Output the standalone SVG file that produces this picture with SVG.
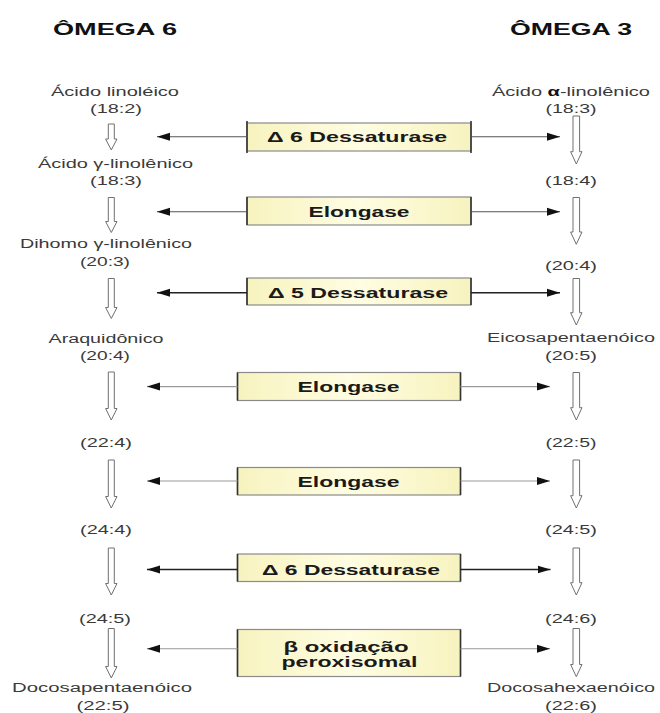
<svg xmlns="http://www.w3.org/2000/svg" width="660" height="713" viewBox="0 0 660 713">
<defs>
<linearGradient id="boxfill" x1="0" y1="0" x2="1" y2="0">
<stop offset="0" stop-color="#f7f3bf"/>
<stop offset="0.5" stop-color="#fffde2"/>
<stop offset="1" stop-color="#f7f3bf"/>
</linearGradient>
<marker id="ah" markerUnits="userSpaceOnUse" markerWidth="14" markerHeight="10" refX="13" refY="4.5" orient="auto">
<path d="M0,0.5 L13,4.5 L0,8.5 z" fill="#111"/>
</marker>
</defs>
<style>
.hdr{font-family:"Liberation Sans",Arial,sans-serif;font-weight:bold;font-size:17px;fill:#111;text-anchor:middle}
.lbl{font-family:"Liberation Sans",Arial,sans-serif;font-size:12.5px;fill:#3a3a3a;text-anchor:middle}
.btx{font-family:"Liberation Sans",Arial,sans-serif;font-weight:bold;font-size:14px;fill:#1a1a1a;text-anchor:middle}
.box{fill:url(#boxfill);stroke:#8a8a8a;stroke-width:1.2}
.edge{stroke:#333;stroke-width:1.6}
.hol{fill:#fff;stroke:#707070;stroke-width:1}
.ln{fill:none;stroke-width:1.1;marker-end:url(#ah)}
.dk{stroke:#222;stroke-width:1.4}
.md{stroke:#555}
.lt{stroke:#9a9a9a}
</style>
<rect width="660" height="713" fill="#fff"/>

<g id="headers">
<text id="omega6" class="hdr" x="115" y="35" textLength="124" lengthAdjust="spacingAndGlyphs">ÔMEGA 6</text>
<text id="omega3" class="hdr" x="571" y="35" textLength="122" lengthAdjust="spacingAndGlyphs">ÔMEGA 3</text>
</g>

<g id="omega6-nodes">
<g id="n6-182"><text class="lbl" x="115" y="95.5" textLength="128" lengthAdjust="spacingAndGlyphs">Ácido linoléico</text><text class="lbl" x="116" y="113" textLength="52" lengthAdjust="spacingAndGlyphs">(18:2)</text></g>
<g id="n6-183"><text class="lbl" x="115.5" y="167.5" textLength="155" lengthAdjust="spacingAndGlyphs">Ácido γ-linolênico</text><text class="lbl" x="116" y="185" textLength="52" lengthAdjust="spacingAndGlyphs">(18:3)</text></g>
<g id="n6-203"><text class="lbl" x="106" y="248" textLength="172" lengthAdjust="spacingAndGlyphs">Dihomo γ-linolênico</text><text class="lbl" x="105" y="265.5" textLength="50" lengthAdjust="spacingAndGlyphs">(20:3)</text></g>
<g id="n6-204"><text class="lbl" x="106" y="342.5" textLength="115" lengthAdjust="spacingAndGlyphs">Araquidônico</text><text class="lbl" x="105" y="360" textLength="50" lengthAdjust="spacingAndGlyphs">(20:4)</text></g>
<g id="n6-224"><text class="lbl" x="106" y="446.5" textLength="52" lengthAdjust="spacingAndGlyphs">(22:4)</text></g>
<g id="n6-244"><text class="lbl" x="106" y="534" textLength="52" lengthAdjust="spacingAndGlyphs">(24:4)</text></g>
<g id="n6-245"><text class="lbl" x="105" y="623" textLength="52" lengthAdjust="spacingAndGlyphs">(24:5)</text></g>
<g id="n6-225"><text class="lbl" x="102" y="691.5" textLength="180" lengthAdjust="spacingAndGlyphs">Docosapentaenóico</text><text class="lbl" x="103" y="709.5" textLength="53" lengthAdjust="spacingAndGlyphs">(22:5)</text></g>
</g>

<g id="omega3-nodes">
<g id="n3-183"><text class="lbl" x="571" y="95.5" textLength="158" lengthAdjust="spacingAndGlyphs">Ácido <tspan font-weight="bold" fill="#111">α</tspan>-linolênico</text><text class="lbl" x="571" y="112.5" textLength="51" lengthAdjust="spacingAndGlyphs">(18:3)</text></g>
<g id="n3-184"><text class="lbl" x="571" y="185" textLength="52" lengthAdjust="spacingAndGlyphs">(18:4)</text></g>
<g id="n3-204"><text class="lbl" x="571" y="270" textLength="52" lengthAdjust="spacingAndGlyphs">(20:4)</text></g>
<g id="n3-205"><text class="lbl" x="571" y="341.5" textLength="168" lengthAdjust="spacingAndGlyphs">Eicosapentaenóico</text><text class="lbl" x="571" y="359.5" textLength="52" lengthAdjust="spacingAndGlyphs">(20:5)</text></g>
<g id="n3-225"><text class="lbl" x="571" y="446.5" textLength="51" lengthAdjust="spacingAndGlyphs">(22:5)</text></g>
<g id="n3-245"><text class="lbl" x="571" y="534" textLength="52" lengthAdjust="spacingAndGlyphs">(24:5)</text></g>
<g id="n3-246"><text class="lbl" x="571" y="623" textLength="52" lengthAdjust="spacingAndGlyphs">(24:6)</text></g>
<g id="n3-226"><text class="lbl" x="571" y="691.5" textLength="168" lengthAdjust="spacingAndGlyphs">Docosahexaenóico</text><text class="lbl" x="571" y="709.5" textLength="52" lengthAdjust="spacingAndGlyphs">(22:6)</text></g>
</g>

<g id="enzymes">
<g id="enz-d6a"><rect class="box" x="247" y="123" width="224" height="28"/><line class="edge" x1="247" y1="121" x2="247" y2="153"/><line class="edge" x1="471" y1="121" x2="471" y2="153"/><text class="btx" x="357" y="142.3" textLength="180" lengthAdjust="spacingAndGlyphs">Δ 6 Dessaturase</text></g>
<g id="enz-el1"><rect class="box" x="247" y="197" width="224" height="28"/><line class="edge" x1="247" y1="197" x2="247" y2="225"/><line class="edge" x1="471" y1="197" x2="471" y2="225"/><text class="btx" x="359" y="216.7" textLength="101" lengthAdjust="spacingAndGlyphs">Elongase</text></g>
<g id="enz-d5"><rect class="box" x="247" y="278" width="224" height="27"/><line class="edge" x1="247" y1="278" x2="247" y2="305"/><line class="edge" x1="471" y1="278" x2="471" y2="305"/><text class="btx" x="358" y="297.7" textLength="180" lengthAdjust="spacingAndGlyphs">Δ 5 Dessaturase</text></g>
<g id="enz-el2"><rect class="box" x="237.5" y="372.5" width="223" height="28"/><line class="edge" x1="237.5" y1="372.5" x2="237.5" y2="400.5"/><line class="edge" x1="460.5" y1="372.5" x2="460.5" y2="400.5"/><text class="btx" x="348.5" y="392.3" textLength="102" lengthAdjust="spacingAndGlyphs">Elongase</text></g>
<g id="enz-el3"><rect class="box" x="237.5" y="467.5" width="223" height="27.5"/><line class="edge" x1="237.5" y1="467.5" x2="237.5" y2="495"/><line class="edge" x1="460.5" y1="467.5" x2="460.5" y2="495"/><text class="btx" x="348.5" y="486.8" textLength="102" lengthAdjust="spacingAndGlyphs">Elongase</text></g>
<g id="enz-d6b"><rect class="box" x="237.5" y="554" width="223" height="27.5"/><line class="edge" x1="237.5" y1="554" x2="237.5" y2="581.5"/><line class="edge" x1="460.5" y1="554" x2="460.5" y2="581.5"/><text class="btx" x="351" y="574.5" textLength="178" lengthAdjust="spacingAndGlyphs">Δ 6 Dessaturase</text></g>
<g id="enz-box"><rect class="box" x="237.5" y="629.5" width="223" height="47"/><line class="edge" x1="237.5" y1="629.5" x2="237.5" y2="676.5"/><line class="edge" x1="460.5" y1="629.5" x2="460.5" y2="676.5"/><text class="btx" x="346" y="651.5" textLength="125" lengthAdjust="spacingAndGlyphs">β oxidação</text><text class="btx" x="349.5" y="667" textLength="136" lengthAdjust="spacingAndGlyphs">peroxisomal</text></g>
</g>

<g id="connectors">
<g id="hollow-left">
<path class="hol" d="M108.3,124 H114.3 V139 H117 L111.3,150 L105.6,139 H108.3 Z"/>
<path class="hol" d="M108.3,197.5 H114.3 V221.5 H117 L111.3,232.5 L105.6,221.5 H108.3 Z"/>
<path class="hol" d="M108.3,278.5 H114.3 V307.5 H117 L111.3,318.5 L105.6,307.5 H108.3 Z"/>
<path class="hol" d="M108.3,372 H114.3 V408.5 H117 L111.3,420 L105.6,408.5 H108.3 Z"/>
<path class="hol" d="M108.3,460 H114.3 V496.5 H117 L111.3,508 L105.6,496.5 H108.3 Z"/>
<path class="hol" d="M108.3,548 H114.3 V583.5 H117 L111.3,595 L105.6,583.5 H108.3 Z"/>
<path class="hol" d="M108.3,628.5 H114.3 V666.5 H117 L111.3,678 L105.6,666.5 H108.3 Z"/>
</g>
<g id="hollow-right">
<path class="hol" d="M573,116 H579.6 V151.7 H582 L576.3,164 L570.6,151.7 H573 Z"/>
<path class="hol" d="M573,197.5 H579.6 V232 H582 L576.3,244.3 L570.6,232 H573 Z"/>
<path class="hol" d="M573,278.5 H579.6 V312.7 H582 L576.3,325 L570.6,312.7 H573 Z"/>
<path class="hol" d="M573,372.5 H579.6 V407.7 H582 L576.3,420 L570.6,407.7 H573 Z"/>
<path class="hol" d="M573,460 H579.6 V495.7 H582 L576.3,508 L570.6,495.7 H573 Z"/>
<path class="hol" d="M573,548 H579.6 V582.7 H582 L576.3,595 L570.6,582.7 H573 Z"/>
<path class="hol" d="M573,628.5 H579.6 V664.5 H582 L576.3,676.7 L570.6,664.5 H573 Z"/>
</g>
<g id="enzyme-arrows">
<line class="ln md" x1="247" y1="136.7" x2="157" y2="136.7"/>
<line class="ln md" x1="471" y1="136.7" x2="560" y2="136.7"/>
<line class="ln md" x1="247" y1="211.7" x2="157" y2="211.7"/>
<line class="ln md" x1="471" y1="211.7" x2="560" y2="211.7"/>
<line class="ln dk" x1="247" y1="292.7" x2="157" y2="292.7"/>
<line class="ln dk" x1="471" y1="292.7" x2="560" y2="292.7"/>
<line class="ln lt" x1="237.5" y1="386.6" x2="147" y2="386.6"/>
<line class="ln lt" x1="460.5" y1="386.6" x2="550" y2="386.6"/>
<line class="ln lt" x1="237.5" y1="481" x2="147" y2="481"/>
<line class="ln lt" x1="460.5" y1="481" x2="550" y2="481"/>
<line class="ln dk" x1="237.5" y1="569.5" x2="147" y2="569.5"/>
<line class="ln dk" x1="460.5" y1="569.5" x2="550.5" y2="569.5"/>
<line class="ln lt" x1="237.5" y1="648.7" x2="147" y2="648.7"/>
<line class="ln lt" x1="460.5" y1="648.7" x2="550" y2="648.7"/>
</g>
</g>
</svg>
